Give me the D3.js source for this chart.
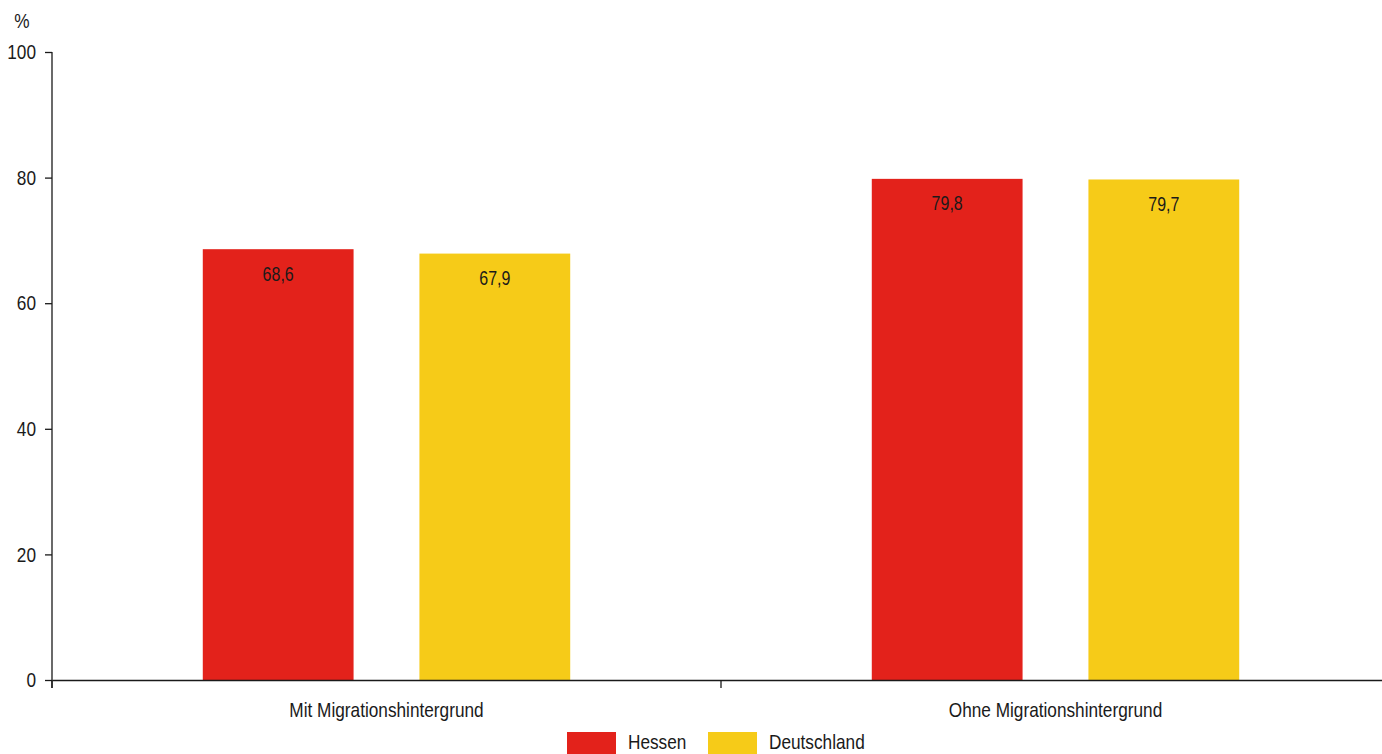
<!DOCTYPE html>
<html><head><meta charset="utf-8">
<script src="https://cdn.jsdelivr.net/npm/d3@7"></script>
<style>body{margin:0;background:#fff}svg{display:block}text{font-family:"Liberation Sans",Arial,sans-serif;fill:#1a1a1a}</style>
</head><body>
<script>
const categories = ["Mit Migrationshintergrund", "Ohne Migrationshintergrund"];
const seriesNames = ["Hessen", "Deutschland"];
const hessen = [68.6, 79.8];
const deutschland = [67.9, 79.7];
const yTicks = [0, 20, 40, 60, 80, 100];
const colors = ["#e3221b", "#f6cb18"];
const unitLabel = "%";

const W = 1382, H = 754;
const FONT = '"Liberation Sans",Arial,sans-serif';
const NARROW = 0.82;
const m = {left: 52, top: 52, bottom: 74};
const plotRight = 1390;
const svg = d3.select("body").append("svg").attr("width", W).attr("height", H);

// emulate a narrow typeface by compressing glyphs horizontally
function narrow(sel) {
  sel.each(function() {
    const len = this.getComputedTextLength();
    d3.select(this).attr("textLength", len * NARROW).attr("lengthAdjust", "spacingAndGlyphs");
  });
}

const x = d3.scaleBand().domain(categories).range([m.left, plotRight]);
const xs = d3.scaleBand().domain(seriesNames).range([0, x.bandwidth()]).paddingInner(0.304).paddingOuter(0.696);
const y = d3.scaleLinear().domain([0, 100]).range([H - m.bottom, m.top]);
const fmt = v => d3.format(".1f")(v).replace(".", ",");

const data = categories.map((c, i) => ({cat: c, vals: [hessen[i], deutschland[i]]}));

const g = svg.append("g");
data.forEach(d => {
  d.vals.forEach((v, j) => {
    const bx = x(d.cat) + xs(seriesNames[j]);
    g.append("rect").attr("x", bx).attr("y", y(v)).attr("width", xs.bandwidth())
      .attr("height", y(0) - y(v)).attr("fill", colors[j]);
    g.append("text").attr("class", "n").attr("x", bx + xs.bandwidth() / 2).attr("y", y(v) + 31.5)
      .attr("text-anchor", "middle").attr("font-size", "19.5px").text(fmt(v));
  });
});

// y axis
const ya = svg.append("g").attr("transform", `translate(${m.left},0)`)
  .call(d3.axisLeft(y).tickValues(yTicks).tickSize(7).tickPadding(9));
ya.selectAll("text").attr("class", "n").attr("font-size", "21px").style("font-family", FONT).attr("fill", "#1a1a1a");
ya.selectAll("line,path").attr("stroke", "#1a1a1a").attr("stroke-width", 1.3);
ya.select(".domain").attr("d", `M0,${y(100)}H0V${y(0) + 8}`).attr("fill", "none");
ya.selectAll(".tick line").attr("x2", -7);

// x axis
const xa = svg.append("g").attr("transform", `translate(0,${y(0)})`)
  .call(d3.axisBottom(x).tickSizeOuter(0).tickSize(0).tickPadding(22));
xa.selectAll(".tick line").remove();
xa.select(".domain").attr("stroke", "#1a1a1a").attr("stroke-width", 1.3);
xa.selectAll("text").attr("class", "n").attr("font-size", "21px").style("font-family", FONT).attr("fill", "#1a1a1a");
const bounds = categories.map(c => x(c)).concat([x(categories[categories.length - 1]) + x.bandwidth()]);
xa.selectAll(".bt").data(bounds).enter().append("line")
  .attr("x1", d => d).attr("x2", d => d).attr("y1", 0).attr("y2", 8)
  .attr("stroke", "#1a1a1a").attr("stroke-width", 1.3);

svg.append("text").attr("class", "n").attr("x", 22).attr("y", 28).attr("text-anchor", "middle")
  .attr("font-size", "21px").text(unitLabel);

// legend
const leg = svg.append("g");
const lx = [567, 708];
seriesNames.forEach((s, i) => {
  leg.append("rect").attr("x", lx[i]).attr("y", 732).attr("width", 49).attr("height", 24).attr("fill", colors[i]);
  leg.append("text").attr("class", "n").attr("x", lx[i] + 61).attr("y", 749).attr("font-size", "21px").text(s);
});

narrow(svg.selectAll("text.n"));
</script>
</body></html>
